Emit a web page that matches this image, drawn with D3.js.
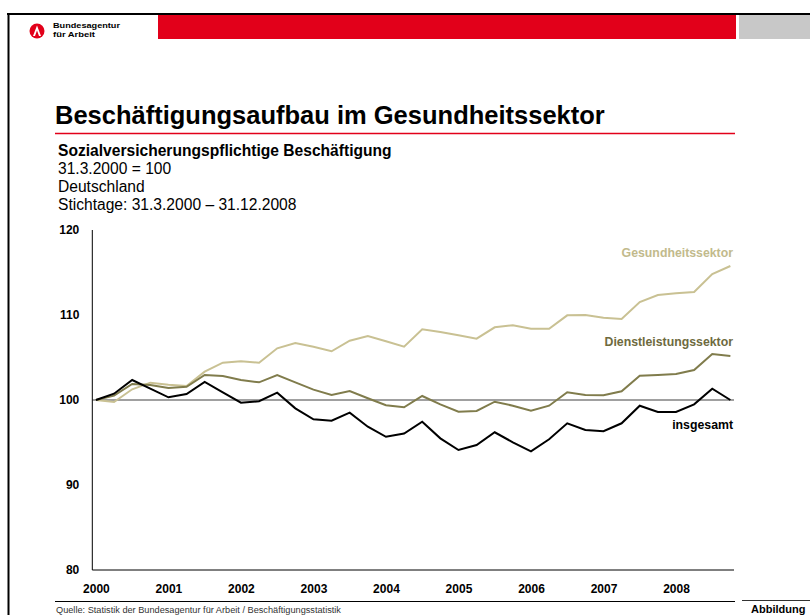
<!DOCTYPE html>
<html>
<head>
<meta charset="utf-8">
<script src="https://cdn.jsdelivr.net/npm/d3@7"></script>
<style>
  body { margin: 0; background: #fff; }
  svg { display: block; font-family: "Liberation Sans", Arial, sans-serif; }
</style>
</head>
<body>
<div id="chart"></div>
<script>
// Stichtage (quarter ends) 31.3.2000 .. 31.12.2008
var quarters = [];
[2000, 2001, 2002, 2003, 2004, 2005, 2006, 2007, 2008].forEach(function(y) {
  ["31.3.", "30.6.", "30.9.", "31.12."].forEach(function(q) { quarters.push(q + y); });
});

var years = [2000, 2001, 2002, 2003, 2004, 2005, 2006, 2007, 2008];
var yTicks = [80, 90, 100, 110, 120];

var gesundheit = [100, 99.76, 101.26, 102.04, 101.8, 101.65, 103.33, 104.39, 104.55, 104.39,
  106.08, 106.71, 106.27, 105.73, 106.98, 107.53, 106.91, 106.27, 108.32, 108.0,
  107.61, 107.21, 108.55, 108.79, 108.39, 108.39, 109.96, 110.0, 109.68, 109.53,
  111.53, 112.35, 112.55, 112.71, 114.82, 115.76];

var dienstleistung = [100, 100.51, 101.88, 101.76, 101.41, 101.56, 102.94, 102.82, 102.35, 102.08,
  102.94, 102.08, 101.22, 100.59, 101.06, 100.2, 99.38, 99.14, 100.47, 99.49,
  98.62, 98.71, 99.8, 99.33, 98.73, 99.33, 100.91, 100.59, 100.55, 101.02,
  102.86, 102.94, 103.06, 103.53, 105.41, 105.18];

var insgesamt = [100, 100.74, 102.35, 101.33, 100.32, 100.71, 102.12, 100.91, 99.68, 99.85,
  100.86, 99.02, 97.73, 97.56, 98.51, 96.86, 95.67, 96.06, 97.45, 95.49,
  94.12, 94.71, 96.2, 95.02, 93.96, 95.38, 97.26, 96.47, 96.32, 97.26,
  99.33, 98.59, 98.59, 99.49, 101.33, 100];

var seriesNames = ["Gesundheitssektor", "Dienstleistungssektor", "insgesamt"];
var seriesColors = ["#c9c193", "#807c4c", "#000000"];
var labelColors = ["#c2ba8c", "#6e6a3e", "#000000"];

var W = 810, H = 615;
var svg = d3.select("#chart").append("svg").attr("width", W).attr("height", H);

// --- page frame / header ---
svg.append("line").attr("x1", 7).attr("x2", W).attr("y1", 14).attr("y2", 14)
   .attr("stroke", "#000").attr("stroke-width", 2);
svg.append("line").attr("x1", 8.5).attr("x2", 8.5).attr("y1", 13).attr("y2", H)
   .attr("stroke", "#000").attr("stroke-width", 2);
svg.append("rect").attr("x", 158).attr("y", 15).attr("width", 578).attr("height", 24).attr("fill", "#e2001a");
svg.append("rect").attr("x", 739).attr("y", 15).attr("width", 71).attr("height", 24).attr("fill", "#c8c8c8");

// logo
svg.append("circle").attr("cx", 37).attr("cy", 31).attr("r", 7.5).attr("fill", "#e2001a");
svg.append("path").attr("d", "M33,36 L37,25.5 L41,36 L39,36 L37,30.5 L35,36 Z").attr("fill", "#fff");
svg.append("text").attr("x", 53).attr("y", 28).attr("font-size", 8).attr("font-weight", "bold")
   .attr("textLength", 67).attr("lengthAdjust", "spacingAndGlyphs").text("Bundesagentur");
svg.append("text").attr("x", 53).attr("y", 37).attr("font-size", 8).attr("font-weight", "bold")
   .attr("textLength", 42).attr("lengthAdjust", "spacingAndGlyphs").text("für Arbeit");

// --- titles ---
svg.append("text").attr("x", 55).attr("y", 124).attr("font-size", 25.5).attr("font-weight", "bold")
   .text("Beschäftigungsaufbau im Gesundheitssektor");
svg.append("line").attr("x1", 55).attr("x2", 735).attr("y1", 133.5).attr("y2", 133.5)
   .attr("stroke", "#e2001a").attr("stroke-width", 1.5);

var sub = ["31.3.2000 = 100", "Deutschland", "Stichtage: 31.3.2000 – 31.12.2008"];
svg.append("text").attr("x", 58).attr("y", 155.5).attr("font-size", 15.6).attr("font-weight", "bold")
   .text("Sozialversicherungspflichtige Beschäftigung");
svg.selectAll("text.sub").data(sub).enter().append("text").attr("class", "sub")
   .attr("x", 58).attr("y", function(d, i) { return 173.7 + i * 18.3; })
   .attr("font-size", 15.6).text(function(d) { return d; });

// --- chart ---
var x = d3.scalePoint().domain(d3.range(quarters.length)).range([92.3, 734]).padding(0.2);
var y = d3.scaleLinear().domain([80, 120]).range([570, 230]);

// reference line at 100
svg.append("line").attr("x1", 92.3).attr("x2", 734).attr("y1", y(100)).attr("y2", y(100))
   .attr("stroke", "#808080").attr("stroke-width", 1.5);

var line = d3.line().x(function(d, i) { return x(i); }).y(function(d) { return y(d); });
var allSeries = [gesundheit, dienstleistung, insgesamt];
svg.selectAll("path.series").data(allSeries).enter().append("path").attr("class", "series")
   .attr("d", line).attr("fill", "none")
   .attr("stroke", function(d, i) { return seriesColors[i]; })
   .attr("stroke-width", 2).attr("stroke-linejoin", "miter");

// axes
var yAxis = svg.append("g").attr("transform", "translate(92.3,0)")
   .call(d3.axisLeft(y).tickValues(yTicks).tickSize(0).tickPadding(13));
yAxis.select(".domain").attr("stroke", "#000").attr("d", "M0," + y(80) + "V" + y(120));
yAxis.selectAll("text").attr("font-size", 12).attr("font-weight", "bold").attr("fill", "#000")
   .attr("font-family", "Liberation Sans, Arial, sans-serif");

var xAxis = svg.append("g").attr("transform", "translate(0," + y(80) + ")")
   .call(d3.axisBottom(x).tickValues(years.map(function(d, i) { return i * 4; }))
     .tickFormat(function(d) { return years[d / 4]; }).tickSize(0).tickPadding(14));
xAxis.select(".domain").attr("stroke", "#000").attr("d", "M92.3,0H734");
xAxis.selectAll("text").attr("font-size", 12).attr("font-weight", "bold").attr("fill", "#000")
   .attr("font-family", "Liberation Sans, Arial, sans-serif");

// series labels
var labelY = [257, 346, 429];
svg.selectAll("text.lbl").data(seriesNames).enter().append("text").attr("class", "lbl")
   .attr("x", 733).attr("y", function(d, i) { return labelY[i]; })
   .attr("text-anchor", "end").attr("font-size", 12.3).attr("font-weight", "bold")
   .attr("fill", function(d, i) { return labelColors[i]; }).text(function(d) { return d; });

// --- footer ---
svg.append("line").attr("x1", 55).attr("x2", 735).attr("y1", 601.5).attr("y2", 601.5)
   .attr("stroke", "#000").attr("stroke-width", 1.2);
svg.append("line").attr("x1", 742).attr("x2", W).attr("y1", 600.5).attr("y2", 600.5)
   .attr("stroke", "#333").attr("stroke-width", 1.2);
svg.append("text").attr("x", 56).attr("y", 612.5).attr("font-size", 9.2).attr("fill", "#333")
   .text("Quelle: Statistik der Bundesagentur für Arbeit / Beschäftigungsstatistik");
svg.append("text").attr("x", 751).attr("y", 612.5).attr("font-size", 11).attr("font-weight", "bold")
   .text("Abbildung");
</script>
</body>
</html>
